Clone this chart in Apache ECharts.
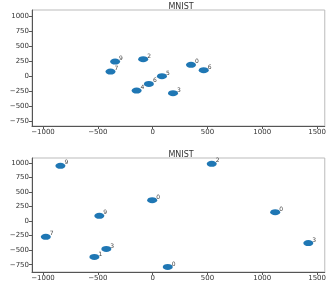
<!DOCTYPE html>
<html><head><meta charset="utf-8">
<script src="https://cdn.jsdelivr.net/npm/echarts@6/dist/echarts.min.js"></script>
<style>html,body{margin:0;padding:0;background:#fff}#c{width:329px;height:286px}</style>
</head><body><div id="c"></div>
<script>
const titleText = "MNIST";
const xTicks = [-1000, -500, 0, 500, 1000, 1500];
const yTicks = [-750, -500, -250, 0, 250, 500, 750, 1000];
const topX = [-342, -384, -86, -34, 85, -146, 186, 350, 466];
const topY = [243, 77, 283, -128, 0, -240, -283, 188, 100];
const topLabels = ["9", "7", "2", "6", "5", "4", "3", "0", "6"];
const botX = [-841, 539, -4, -486, 1118, -974, -422, -531, 138, 1420];
const botY = [952, 986, 360, 91, 154, -269, -479, -616, -788, -377];
const botLabels = ["9", "2", "0", "9", "0", "7", "3", "1", "0", "3"];

const font = "DejaVu Sans";
function pts(xs, ys, ls){ return xs.map((x,i)=>({value:[x, ys[i]], label:{formatter: ls[i]}})); }
function xAxis(idx){
  return {gridIndex: idx, type:'value', min:-1100, max:1570,
    splitLine:{show:false},
    axisLine:{show:true, onZero:false, lineStyle:{color:'#555', width:1}},
    axisTick:{show:true, length:3, customValues:xTicks, lineStyle:{color:'#555'}},
    axisLabel:{customValues:xTicks, fontSize:7, color:'#333', fontFamily:font, margin:3,
      formatter:v=> v<0 ? '\u2212'+Math.abs(v) : String(v)}};
}
function yAxis(idx, mn, mx){
  return {gridIndex: idx, type:'value', min:mn, max:mx,
    splitLine:{show:false},
    axisLine:{show:true, onZero:false, lineStyle:{color:'#555', width:1}},
    axisTick:{show:true, length:3, customValues:yTicks, lineStyle:{color:'#555'}},
    axisLabel:{customValues:yTicks, fontSize:7, color:'#333', fontFamily:font, margin:3,
      formatter:v=> v<0 ? '\u2212'+Math.abs(v) : String(v)}};
}
function series(idx, data){
  return {type:'scatter', xAxisIndex:idx, yAxisIndex:idx, data:data,
    symbol:'circle', symbolSize:[10,6],
    itemStyle:{color:'#1f77b4', opacity:1},
    label:{show:true, position:'right', offset:[-6,-3], fontSize:6, color:'#444', fontFamily:font},
    silent:true, animation:false};
}
const chart = echarts.init(document.getElementById('c'), null, {renderer:'canvas'});
chart.setOption({
  animation:false,
  title:[
    {text:titleText, left:176, top:-2, textAlign:'center', textStyle:{fontSize:8, fontWeight:'normal', color:'#333', fontFamily:font}},
    {text:titleText, left:176, top:146, textAlign:'center', textStyle:{fontSize:8, fontWeight:'normal', color:'#333', fontFamily:font}}
  ],
  grid:[
    {left:32, top:10, width:293, height:116, show:true, borderColor:'#bbb', borderWidth:1, backgroundColor:'#fff'},
    {left:32, top:158, width:293, height:114, show:true, borderColor:'#bbb', borderWidth:1, backgroundColor:'#fff'}
  ],
  xAxis:[xAxis(0), xAxis(1)],
  yAxis:[yAxis(0, -828, 1100), yAxis(1, -875, 1086)],
  series:[series(0, pts(topX, topY, topLabels)), series(1, pts(botX, botY, botLabels))]
});
</script></body></html>
